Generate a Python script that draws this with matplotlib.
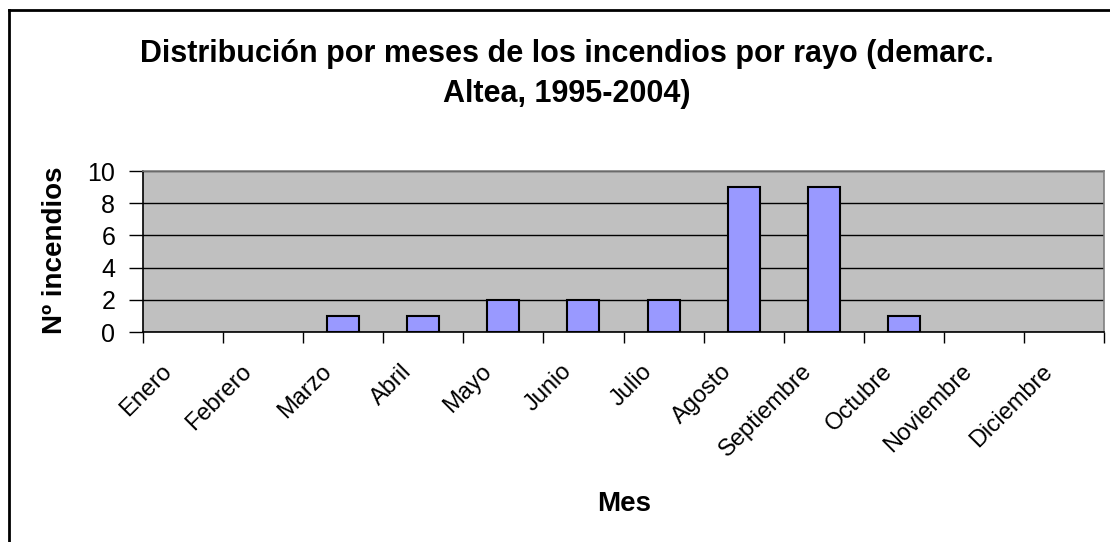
import matplotlib
matplotlib.use("Agg")
import matplotlib.pyplot as plt
from matplotlib.lines import Line2D
import matplotlib.transforms as mtransforms
import numpy as np

months = ["Enero", "Febrero", "Marzo", "Abril", "Mayo", "Junio", "Julio",
          "Agosto", "Septiembre", "Octubre", "Noviembre", "Diciembre"]
incendios = [0, 0, 1, 1, 2, 2, 2, 9, 9, 1, 0, 0]
yticks = [0, 2, 4, 6, 8, 10]
title_l1 = "Distribución por meses de los incendios por rayo (demarc."
title_l2 = "Altea, 1995-2004)"
xlabel = "Mes"
ylabel = "Nº incendios"

plt.rcParams['font.family'] = ['Liberation Sans', 'DejaVu Sans']

W, H = 1110, 542
fig = plt.figure(figsize=(W / 100, H / 100), dpi=100)
fig.patch.set_facecolor('white')

left, right, top, bottom = 143, 1104, 171, 332
ax = fig.add_axes([left / W, 1 - bottom / H, (right - left) / W, (bottom - top) / H])
ax.set_facecolor('#C0C0C0')

x = np.arange(len(months))
ax.set_axisbelow(True)
ax.yaxis.grid(True, color='black', linewidth=1.0)
lws = [1.5 if v > 0 else 0 for v in incendios]
ax.bar(x, incendios, width=0.4, color='#9999FF', edgecolor='black', linewidth=lws, zorder=3)

ax.set_xlim(-0.5, len(months) - 0.5)
ax.set_ylim(0, 10)
ax.set_yticks(yticks)
ax.set_yticklabels([str(v) for v in yticks], fontsize=18)
ax.tick_params(axis='y', length=10, width=1, pad=10, color='black')

ax.set_xticks(x)
ax.set_xticklabels(months, fontsize=17, rotation=45, ha='right', va='center',
                   rotation_mode='anchor')
ax.tick_params(axis='x', which='major', length=0, pad=26)
ax.set_xticks(np.arange(-0.5, len(months), 1.0), minor=True)
ax.tick_params(axis='x', which='minor', length=8, width=1, color='black')
offset = mtransforms.ScaledTranslation(-0.15, 0, fig.dpi_scale_trans)
for lbl in ax.get_xticklabels():
    lbl.set_transform(lbl.get_transform() + offset)

for s in ['top', 'right']:
    ax.spines[s].set_color('#808080')
    ax.spines[s].set_linewidth(1.2)
for s in ['left', 'bottom']:
    ax.spines[s].set_color('black')
    ax.spines[s].set_linewidth(1.2)

fig.text(567 / W, 1 - 62 / H, title_l1, ha='center', va='baseline', fontsize=22, fontweight='bold')
fig.text(567 / W, 1 - 102 / H, title_l2, ha='center', va='baseline', fontsize=22, fontweight='bold')
fig.text(624 / W, 1 - 511 / H, xlabel, ha='center', va='baseline', fontsize=20, fontweight='bold')
fig.text(55 / W, 1 - 250 / H, ylabel, ha='center', va='center', rotation=90, fontsize=20, fontweight='bold')

# chart border (left and top visible)
fig.add_artist(Line2D([9 / W, 9 / W], [0, 1 - 10 / H], color='black', linewidth=2, transform=fig.transFigure))
fig.add_artist(Line2D([9 / W, 1], [1 - 10 / H, 1 - 10 / H], color='black', linewidth=2, transform=fig.transFigure))

fig.savefig('out.png', dpi=100)
